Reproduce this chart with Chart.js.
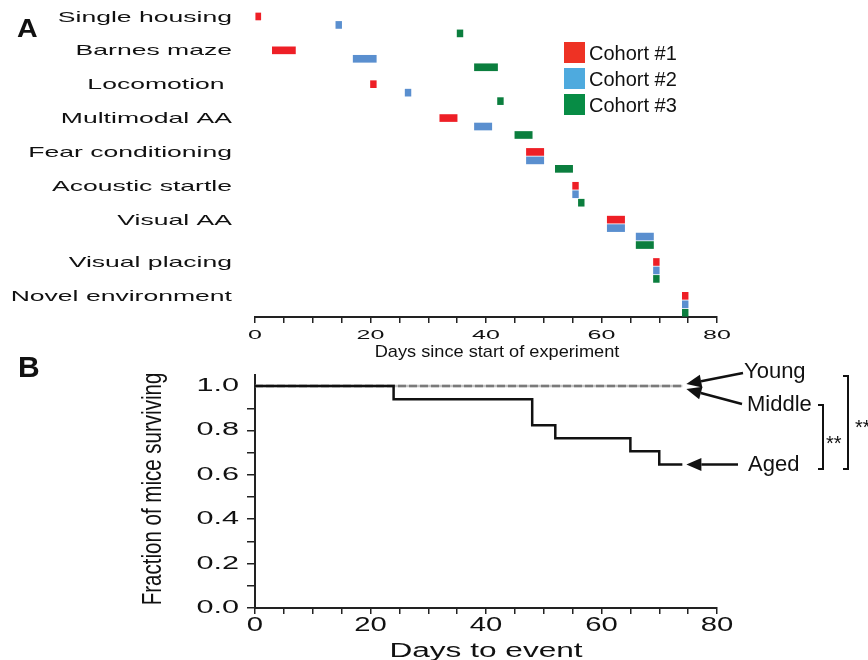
<!DOCTYPE html>
<html>
<head>
<meta charset="utf-8">
<script src="https://cdn.jsdelivr.net/npm/chart.js@4"></script>
<style>
  body { margin: 0; background: #fff; }
  #wrap { position: relative; width: 868px; height: 660px; }
  canvas { position: absolute; left: 0; top: 0; }
</style>
</head>
<body>
<div id="wrap">
  <canvas id="chartA" width="868" height="660"></canvas>
  <canvas id="chartB" width="868" height="660"></canvas>
</div>
<script>
// panel A: test schedule
const activities = ["Single housing", "Barnes maze", "Locomotion ", "Multimodal AA", "Fear conditioning",
  "Acoustic startle", "Visual AA", "Visual placing", "Novel environment"];
const cohortNames = ["Cohort #1", "Cohort #2", "Cohort #3"];
// [first day, last day] per activity
const cohort1Days = [[0, 1], [3, 7], [20, 21], [32, 35], [47, 50], [55, 56], [61, 64], [69, 70], [74, 75]];
const cohort2Days = [[14, 15], [17, 21], [26, 27], [38, 41], [47, 50], [55, 56], [61, 64], [69, 70], [74, 75]];
const cohort2Repeat = [null, null, null, null, null, null, [66, 69], null, null];
const cohort3Days = [[35, 36], [38, 42], [42, 43], [45, 48], [52, 55], [56, 57], [66, 69], [69, 70], [74, 75]];
const dayTicks = [0, 20, 40, 60, 80];

// panel B: survival
const eventDays = [0, 24, 48, 52, 65, 70, 74];
const agedSurvival = [1, 0.941, 0.824, 0.765, 0.706, 0.647, 0.647];
const middleSurvival = [1, 1, 1, 1, 1, 1, 1];
const youngSurvival = [1, 1, 1, 1, 1, 1, 1];
const fractionTicks = [0, 0.2, 0.4, 0.6, 0.8, 1.0];

const barColors = ["#ee1f26", "#5a8fcf", "#0b7e3e"];
const legendColors = ["#ee3224", "#4eaade", "#078c45"];
const ink = "#111";
const FONT = '"Liberation Sans", Arial, sans-serif';

// one lane per bar, blank lane between activities
const laneData = [[], [], []];
const laneStart = [];
let lane = 0, lastLane = 0;
activities.forEach((a, i) => {
  laneStart.push(lane);
  [[0, cohort1Days[i]], [1, cohort2Days[i]], [1, cohort2Repeat[i]], [2, cohort3Days[i]]].forEach(([c, d]) => {
    if (!d) return;
    laneData[c].push({ x: d, y: lane });
    lastLane = lane;
    lane++;
  });
  lane++;
});

function txt(ctx, s, x, y, size, o = {}) {
  ctx.save();
  ctx.font = (o.bold ? "bold " : "") + size + "px " + FONT;
  ctx.fillStyle = ink;
  ctx.textAlign = o.align || "left";
  ctx.textBaseline = o.baseline || "middle";
  ctx.translate(x, y);
  if (o.rotate) ctx.rotate(o.rotate);
  ctx.scale(o.sx || 1, 1);
  ctx.fillText(s, 0, 0);
  ctx.restore();
}

function arrow(ctx, x1, y1, x2, y2) {
  const ang = Math.atan2(y2 - y1, x2 - x1), L = 15, W = 6.5;
  const bx = x2 - L * Math.cos(ang), by = y2 - L * Math.sin(ang);
  ctx.save();
  ctx.strokeStyle = ink; ctx.fillStyle = ink; ctx.lineWidth = 2.5;
  ctx.beginPath(); ctx.moveTo(x1, y1); ctx.lineTo(bx, by); ctx.stroke();
  ctx.beginPath();
  ctx.moveTo(x2, y2);
  ctx.lineTo(bx - W * Math.sin(ang), by + W * Math.cos(ang));
  ctx.lineTo(bx + W * Math.sin(ang), by - W * Math.cos(ang));
  ctx.closePath(); ctx.fill();
  ctx.restore();
}

function poly(ctx, pts) {
  ctx.save();
  ctx.strokeStyle = ink; ctx.lineWidth = 2;
  ctx.beginPath();
  pts.forEach((p, i) => i ? ctx.lineTo(p[0], p[1]) : ctx.moveTo(p[0], p[1]));
  ctx.stroke();
  ctx.restore();
}

const textA = {
  id: "textA",
  afterDraw(chart) {
    const ctx = chart.ctx, xs = chart.scales.x, ys = chart.scales.y;
    txt(ctx, "A", 17, 29.5, 26, { bold: true, sx: 1.1 });
    activities.forEach((a, i) =>
      txt(ctx, a, 232, ys.getPixelForValue(laneStart[i]) + 1, 15, { align: "right", sx: 1.77 }));
    dayTicks.forEach(d => txt(ctx, String(d), xs.getPixelForValue(d), 336, 12.5, { align: "center", sx: 2 }));
    txt(ctx, "Days since start of experiment", 497, 352, 17, { align: "center", sx: 1.07 });
    cohortNames.forEach((n, i) => {
      ctx.fillStyle = legendColors[i];
      ctx.fillRect(564, 42 + i * 26, 21, 21);
      txt(ctx, n, 589, 42 + i * 26 + 12, 20);
    });
  }
};

new Chart(document.getElementById("chartA"), {
  type: "bar",
  data: {
    datasets: cohortNames.map((n, i) => ({
      label: n,
      data: laneData[i],
      backgroundColor: barColors[i],
      borderWidth: 0,
      barThickness: 7,
      grouped: false
    }))
  },
  options: {
    indexAxis: "y",
    responsive: false,
    animation: false,
    events: [],
    layout: { autoPadding: false, padding: { left: 255, right: 151, top: 8, bottom: 337 } },
    plugins: { legend: { display: false }, tooltip: { enabled: false } },
    scales: {
      y: { type: "linear", reverse: true, offset: false, min: -1, max: lastLane + 0.5, display: false },
      x: {
        type: "linear", min: 0, max: 80, offset: false,
        ticks: { stepSize: 5, display: false },
        grid: { display: true, drawOnChartArea: false, drawTicks: true, tickLength: 6, color: "#222", lineWidth: 1.5 },
        border: { display: true, color: "#222", width: 2 }
      }
    }
  },
  plugins: [textA]
});

const textB = {
  id: "textB",
  afterDraw(chart) {
    const ctx = chart.ctx, xs = chart.scales.x, ys = chart.scales.y;
    txt(ctx, "B", 18, 369, 30, { bold: true });
    fractionTicks.forEach(v => txt(ctx, v.toFixed(1), 239, ys.getPixelForValue(v), 18, { align: "right", sx: 1.7 }));
    dayTicks.forEach(d => txt(ctx, String(d), xs.getPixelForValue(d), 626, 19.5, { align: "center", sx: 1.5 }));
    txt(ctx, "Days to event", (xs.left + xs.right) / 2, 651, 20, { align: "center", sx: 1.58 });
    txt(ctx, "Fraction of mice surviving", 154, 489, 27, { align: "center", rotate: -Math.PI / 2, sx: 0.76 });

    const endX = xs.getPixelForValue(eventDays[eventDays.length - 1]) + 4;
    const topY = ys.getPixelForValue(youngSurvival[youngSurvival.length - 1]);
    const agedY = ys.getPixelForValue(agedSurvival[agedSurvival.length - 1]);
    txt(ctx, "Young", 744, 372, 22);
    txt(ctx, "Middle", 747, 405, 22);
    txt(ctx, "Aged", 748, 465, 22);
    arrow(ctx, 743, 373, endX, topY - 2);
    arrow(ctx, 742, 404, endX, topY + 3);
    arrow(ctx, 738, agedY, endX, agedY);

    poly(ctx, [[818, 405], [823, 405], [823, 469], [818, 469]]);
    poly(ctx, [[843, 376], [848, 376], [848, 469], [843, 469]]);
    txt(ctx, "**", 826, 449.5, 20, { baseline: "alphabetic" });
    txt(ctx, "**", 855, 433.5, 20, { baseline: "alphabetic" });
  }
};

const pts = vals => eventDays.map((d, i) => ({ x: d, y: vals[i] }));

new Chart(document.getElementById("chartB"), {
  type: "line",
  data: {
    datasets: [
      { label: "Aged", data: pts(agedSurvival), borderColor: "#111", borderWidth: 2.5, stepped: true, pointRadius: 0 },
      { label: "Middle", data: pts(middleSurvival), borderColor: "#7a7a7a", borderDash: [8, 3], borderWidth: 2.5, stepped: true, pointRadius: 0 },
      { label: "Young", data: pts(youngSurvival), borderColor: "#c4c4c4", borderWidth: 2.5, stepped: true, pointRadius: 0 }
    ]
  },
  options: {
    responsive: false,
    animation: false,
    events: [],
    layout: { autoPadding: false, padding: { left: 247, right: 151, top: 375, bottom: 46 } },
    plugins: { legend: { display: false }, tooltip: { enabled: false } },
    scales: {
      x: {
        type: "linear", min: 0, max: 80,
        ticks: { stepSize: 5, display: false },
        grid: { display: true, drawOnChartArea: false, drawTicks: true, tickLength: 6, color: "#222", lineWidth: 1.5 },
        border: { display: true, color: "#222", width: 2 }
      },
      y: {
        type: "linear", min: 0, max: 1.05,
        ticks: { stepSize: 0.1, display: false },
        afterBuildTicks: s => { s.ticks = s.ticks.filter(t => t.value <= 1.0001); },
        grid: { display: true, drawOnChartArea: false, drawTicks: true, tickLength: 8, color: "#222", lineWidth: 1.5 },
        border: { display: true, color: "#222", width: 2 }
      }
    }
  },
  plugins: [textB]
});
</script>
</body>
</html>
